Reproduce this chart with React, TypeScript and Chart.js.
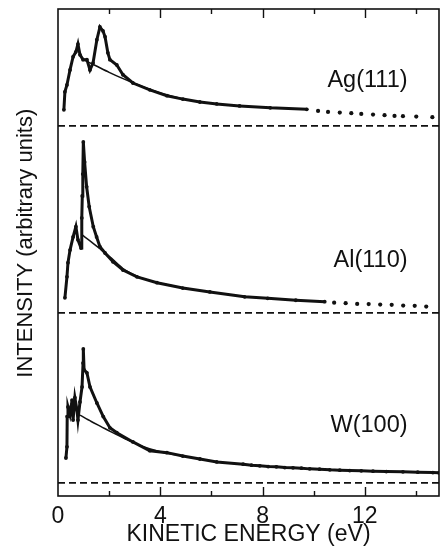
import React, { useEffect, useRef } from 'react';
import { Chart, registerables } from 'chart.js';

Chart.register(...registerables);

// ---------- axes ----------
const X_MIN = 0;
const X_MAX = 14.9;
const Y_MIN = 0;
const Y_MAX = 100;
const X_TICKS = [0, 2, 4, 6, 8, 10, 12, 14];
const X_LABELED = [0, 4, 8, 12];
const X_TITLE = 'KINETIC ENERGY (eV)';
const Y_TITLE = 'INTENSITY (arbitrary units)';

// ---------- series ----------
const seriesNames = ['Ag(111)', 'Al(110)', 'W(100)'];
const baselineOffsets = [76.0, 37.6, 2.7];

// Ag(111)
const agEnergy = [0.23, 0.27, 0.35, 0.47, 0.59, 0.7, 0.78, 0.86, 0.98, 1.13, 1.25, 1.37, 1.52, 1.64, 1.76, 1.84, 1.95, 2.03, 2.3, 2.54, 2.93, 3.59, 4.26, 4.88, 5.55, 6.21, 7.1, 8.3, 9.73];
const agIntensity = [3.3, 7.0, 8.4, 11.5, 14.2, 15.2, 16.8, 14.6, 13.6, 13.6, 11.5, 12.9, 17.7, 20.3, 19.5, 18.3, 15.0, 13.6, 12.5, 10.5, 8.8, 7.4, 6.2, 5.5, 4.9, 4.5, 4.1, 3.7, 3.4];
const agTailEnergy = [10.17, 10.56, 11.02, 11.47, 11.86, 12.32, 12.77, 13.16, 13.49, 14.01, 14.64];
const agTailIntensity = [3.08, 2.87, 2.73, 2.61, 2.46, 2.32, 2.2, 2.05, 1.99, 1.91, 1.79];
const agFitEnergy = [1.0, 1.5, 2.0, 2.5, 3.0, 3.6, 4.3, 5.0];
const agFitIntensity = [13.6, 12.3, 11.0, 9.8, 8.7, 7.5, 6.3, 5.4];

// Al(110)
const alEnergy = [0.27, 0.35, 0.39, 0.47, 0.59, 0.7, 0.78, 0.9, 0.93, 0.95, 0.97, 0.99, 1.04, 1.12, 1.22, 1.38, 1.51, 1.64, 1.84, 2.15, 2.54, 3.09, 3.87, 4.88, 5.94, 7.3, 8.2, 9.3, 10.43];
const alIntensity = [3.1, 7.4, 10.3, 12.9, 15.6, 17.7, 15.0, 13.3, 19.5, 24.0, 28.5, 35.1, 31.0, 25.9, 21.8, 17.7, 15.6, 13.6, 12.3, 10.5, 8.8, 7.4, 6.2, 5.1, 4.3, 3.3, 3.0, 2.6, 2.3];
const alTailEnergy = [10.8, 11.25, 11.7, 12.15, 12.6, 13.05, 13.5, 13.95, 14.4];
const alTailIntensity = [2.1, 2.0, 1.85, 1.8, 1.7, 1.65, 1.5, 1.45, 1.3];
const alFitEnergy = [0.94, 1.3, 1.7, 2.1, 2.6, 3.2, 4.0, 5.0];
const alFitIntensity = [16.0, 14.6, 12.9, 11.2, 8.9, 7.3, 6.1, 5.0];

// W(100)
const wEnergy = [0.31, 0.35, 0.36, 0.39, 0.47, 0.55, 0.59, 0.66, 0.74, 0.78, 0.86, 0.94, 0.98, 0.99, 1.02, 1.13, 1.25, 1.52, 1.77, 2.03, 2.3, 2.93, 3.59, 4.26, 4.88, 5.55, 6.21, 7.24, 7.57, 7.89, 8.22, 8.54, 8.87, 9.19, 9.52, 9.84, 10.23, 10.63, 11.02, 11.41, 11.86, 12.32, 12.84, 13.49, 14.07, 14.66, 14.9];
const wIntensity = [5.1, 7.4, 13.6, 15.6, 14.0, 17.0, 12.9, 17.5, 15.0, 12.9, 16.6, 19.7, 24.6, 27.5, 23.2, 22.6, 19.7, 16.4, 13.6, 11.3, 10.3, 8.4, 6.6, 6.2, 5.5, 4.9, 4.3, 3.84, 3.63, 3.49, 3.35, 3.29, 3.14, 3.08, 3.02, 2.87, 2.81, 2.67, 2.61, 2.53, 2.46, 2.4, 2.32, 2.26, 2.2, 2.12, 2.05];
const wFitEnergy = [0.86, 1.3, 1.7, 2.1, 2.6, 3.2, 4.0, 5.0];
const wFitIntensity = [13.9, 12.6, 11.5, 10.4, 9.1, 7.7, 6.4, 5.4];

const measured = [
  { e: agEnergy, i: agIntensity },
  { e: alEnergy, i: alIntensity },
  { e: wEnergy, i: wIntensity },
];
const tails = [
  { e: agTailEnergy, i: agTailIntensity },
  { e: alTailEnergy, i: alTailIntensity },
  { e: [] as number[], i: [] as number[] },
];
const fits = [
  { e: agFitEnergy, i: agFitIntensity },
  { e: alFitEnergy, i: alFitIntensity },
  { e: wFitEnergy, i: wFitIntensity },
];

// label anchors (data units: right edge x, text baseline y)
const labelAnchors = [
  { x: 13.67, y: 84.0 },
  { x: 13.67, y: 47.0 },
  { x: 13.67, y: 13.1 },
];

const FONT = '"Liberation Sans", Arial, Helvetica, sans-serif';
const INK = '#111111';

function toPoints(e: number[], i: number[], off: number) {
  return e.map((x, k) => ({ x, y: i[k] + off }));
}

const framePlugin = {
  id: 'frameAndLabels',
  afterDraw(chart: any) {
    const ctx = chart.ctx as CanvasRenderingContext2D;
    const { left, right, top, bottom } = chart.chartArea;
    const xs = chart.scales.x;
    const ys = chart.scales.y;
    ctx.save();
    ctx.strokeStyle = INK;
    ctx.lineWidth = 1.6;
    ctx.strokeRect(left, top, right - left, bottom - top);
    ctx.lineWidth = 1.4;
    for (const v of X_TICKS) {
      if (v === X_MIN) continue;
      const px = Math.round(xs.getPixelForValue(v)) + 0.5;
      const len = X_LABELED.includes(v) ? 9 : 5;
      ctx.beginPath();
      ctx.moveTo(px, bottom);
      ctx.lineTo(px, bottom - len);
      ctx.moveTo(px, top);
      ctx.lineTo(px, top + len);
      ctx.stroke();
    }
    ctx.fillStyle = INK;
    ctx.font = `23.5px ${FONT}`;
    ctx.textAlign = 'right';
    ctx.textBaseline = 'alphabetic';
    seriesNames.forEach((name, k) => {
      ctx.fillText(name, xs.getPixelForValue(labelAnchors[k].x), ys.getPixelForValue(labelAnchors[k].y));
    });
    ctx.font = `22px ${FONT}`;
    ctx.translate(left - 32, top + (bottom - top) * 0.481);
    ctx.rotate(-Math.PI / 2);
    ctx.textAlign = 'center';
    ctx.textBaseline = 'middle';
    ctx.fillText(Y_TITLE, 0, 0);
    ctx.restore();
  },
};

export default function App() {
  const ref = useRef<HTMLCanvasElement | null>(null);
  useEffect(() => {
    if (!ref.current) return;
    const datasets: any[] = [];
    seriesNames.forEach((name, k) => {
      const off = baselineOffsets[k];
      datasets.push({
        label: name + ' baseline',
        data: [{ x: X_MIN, y: off }, { x: X_MAX, y: off }],
        showLine: true,
        borderColor: INK,
        borderWidth: 1.6,
        borderDash: [7, 4],
        pointRadius: 0,
      });
      datasets.push({
        label: name + ' fit',
        data: toPoints(fits[k].e, fits[k].i, off),
        showLine: true,
        borderColor: INK,
        borderWidth: 1.5,
        tension: 0.3,
        pointRadius: 0,
      });
      datasets.push({
        label: name,
        data: toPoints(measured[k].e, measured[k].i, off),
        showLine: true,
        borderColor: INK,
        borderWidth: 3,
        pointRadius: 1.9,
        pointBorderWidth: 0,
        pointBackgroundColor: INK,
      });
      datasets.push({
        label: name + ' tail',
        data: toPoints(tails[k].e, tails[k].i, off),
        showLine: false,
        pointRadius: 2.1,
        pointBorderWidth: 0,
        pointBackgroundColor: INK,
      });
    });
    const chart = new Chart(ref.current, {
      type: 'scatter',
      data: { datasets },
      options: {
        animation: false,
        responsive: false,
        maintainAspectRatio: false,
        layout: { padding: { left: 0, right: 1, top: 9, bottom: 0 } },
        plugins: { legend: { display: false }, tooltip: { enabled: false } },
        scales: {
          x: {
            type: 'linear',
            min: X_MIN,
            max: X_MAX,
            grid: { display: false },
            border: { display: false },
            ticks: {
              stepSize: 2,
              autoSkip: false,
              maxRotation: 0,
              padding: -1,
              color: INK,
              font: { family: FONT, size: 23 },
              callback: (v: any) => (X_LABELED.includes(Number(v)) ? String(v) : ''),
            },
            title: {
              display: true,
              text: X_TITLE,
              color: INK,
              font: { family: FONT, size: 23 },
              padding: { top: 0, bottom: -1 },
            },
            afterFit: (s: any) => {
              s.height = 51;
            },
          },
          y: {
            type: 'linear',
            min: Y_MIN,
            max: Y_MAX,
            grid: { display: false },
            border: { display: false },
            ticks: { display: false },
            afterFit: (s: any) => {
              s.width = 58;
            },
          },
        },
      },
      plugins: [framePlugin],
    });
    return () => chart.destroy();
  }, []);
  return (
    <div style={{ position: 'fixed', left: 0, top: 0, width: 443, height: 547, background: '#fff' }}>
      <canvas ref={ref} width={443} height={547} style={{ display: 'block', width: 443, height: 547 }} />
    </div>
  );
}
